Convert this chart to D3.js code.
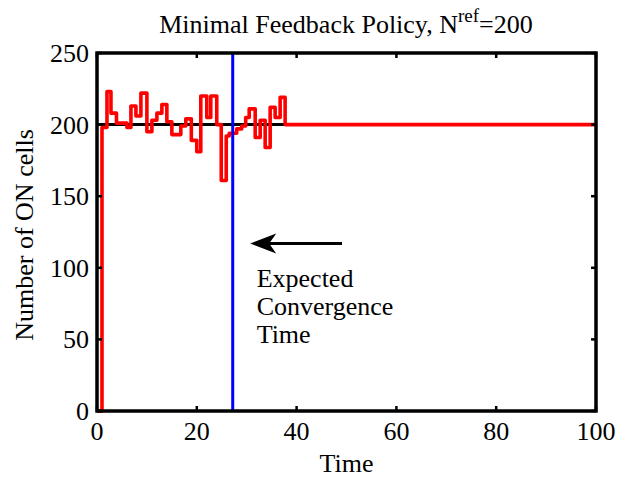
<!DOCTYPE html>
<html>
<head>
<meta charset="utf-8">
<script src="https://cdn.jsdelivr.net/npm/d3@7"></script>
<style>
  body { margin: 0; background: #fff; }
  text { font-family: "Liberation Serif", "Times New Roman", serif; }
</style>
</head>
<body>
<div id="chart"></div>
<script>
// step times and number of ON cells (stairs)
const times  = [0, 1, 2, 2.8, 3.9, 6, 6.8, 7.8, 8.8, 10, 11, 12, 13, 14, 15, 16.8, 17.8, 18.9, 20, 20.8,
                22, 22.8, 24, 24.9, 25.9, 26.5, 28, 29, 29.8, 30.5, 31.7, 32.7, 33.7, 34.7, 35.7, 36.7, 37.7, 100];
const counts = [0, 198, 223, 208, 201, 198, 213, 206, 222, 195, 203, 208, 214, 202, 193, 199, 204, 189, 181, 220,
                205, 220, 200, 161, 192, 194, 197, 199, 205, 211, 191, 203, 184, 212, 205, 219, 200, 200];
const nRef = 200;
const convTime = 27.2;
const xTicks = [0, 20, 40, 60, 80, 100];
const yTicks = [0, 50, 100, 150, 200, 250];
const annotLines = ["Expected", "Convergence", "Time"];

const width = 631, height = 478;
const margin = {left: 97, right: 35, top: 53, bottom: 67};
const fs = 26;

const svg = d3.select("#chart").append("svg")
    .attr("width", width)
    .attr("height", height);

const x = d3.scaleLinear().domain([0, 100]).range([margin.left, width - margin.right]);
const y = d3.scaleLinear().domain([0, 250]).range([height - margin.bottom, margin.top]);

// reference line
svg.append("line")
    .attr("x1", x(0)).attr("x2", x(100))
    .attr("y1", y(nRef)).attr("y2", y(nRef))
    .attr("stroke", "black").attr("stroke-width", 3);

// red stairs
const pts = times.map((t, i) => [t, counts[i]]);
svg.append("path")
    .datum(pts)
    .attr("fill", "none")
    .attr("stroke", "#ff0000")
    .attr("stroke-width", 3.6)
    .attr("stroke-linejoin", "round")
    .attr("d", d3.line().x(d => x(d[0])).y(d => y(d[1])).curve(d3.curveStepAfter));

// expected convergence line
svg.append("line")
    .attr("x1", x(convTime)).attr("x2", x(convTime))
    .attr("y1", y(0)).attr("y2", y(250))
    .attr("stroke", "#0000ff").attr("stroke-width", 3);

// frame + ticks
const frame = svg.append("g");
frame.append("rect")
    .attr("x", x(0)).attr("y", y(250))
    .attr("width", x(100) - x(0)).attr("height", y(0) - y(250))
    .attr("fill", "none").attr("stroke", "black").attr("stroke-width", 3.5);

const tl = 5;
xTicks.forEach(t => {
  frame.append("line").attr("x1", x(t)).attr("x2", x(t))
      .attr("y1", y(0)).attr("y2", y(0) - tl).attr("stroke", "black").attr("stroke-width", 2.5);
  frame.append("line").attr("x1", x(t)).attr("x2", x(t))
      .attr("y1", y(250)).attr("y2", y(250) + tl).attr("stroke", "black").attr("stroke-width", 2.5);
  svg.append("text").attr("x", x(t)).attr("y", y(0) + 29)
      .attr("text-anchor", "middle").attr("font-size", fs).text(t);
});
yTicks.forEach(v => {
  frame.append("line").attr("x1", x(0)).attr("x2", x(0) + tl)
      .attr("y1", y(v)).attr("y2", y(v)).attr("stroke", "black").attr("stroke-width", 2.5);
  frame.append("line").attr("x1", x(100)).attr("x2", x(100) - tl)
      .attr("y1", y(v)).attr("y2", y(v)).attr("stroke", "black").attr("stroke-width", 2.5);
  svg.append("text").attr("x", x(0) - 8).attr("y", y(v) + 9)
      .attr("text-anchor", "end").attr("font-size", fs).text(v);
});

// arrow
const ay = y(117), tipX = x(30.7), tailX = x(49.1);
svg.append("line")
    .attr("x1", tailX).attr("x2", tipX + 12)
    .attr("y1", ay).attr("y2", ay)
    .attr("stroke", "black").attr("stroke-width", 3);
svg.append("path")
    .attr("d", `M${tipX},${ay} L${tipX + 26},${ay - 10} L${tipX + 19},${ay} L${tipX + 26},${ay + 10} Z`)
    .attr("fill", "black");

// annotation text
svg.append("text")
    .attr("x", x(32)).attr("y", 287)
    .attr("font-size", fs)
  .selectAll("tspan").data(annotLines).enter().append("tspan")
    .attr("x", x(32))
    .attr("dy", (d, i) => i === 0 ? 0 : 28)
    .text(d => d);

// title
const title = svg.append("text")
    .attr("x", 346).attr("y", 33)
    .attr("text-anchor", "middle").attr("font-size", fs);
title.append("tspan").text("Minimal Feedback Policy, N");
title.append("tspan").attr("dy", -11).attr("font-size", 19).text("ref");
title.append("tspan").attr("dy", 11).text("=200");

// axis labels
svg.append("text")
    .attr("x", x(50)).attr("y", 472)
    .attr("text-anchor", "middle").attr("font-size", fs).text("Time");
svg.append("text")
    .attr("transform", `translate(33, ${(y(0) + y(250)) / 2 + 3}) rotate(-90)`)
    .attr("text-anchor", "middle").attr("font-size", fs).text("Number of ON cells");
</script>
</body>
</html>
